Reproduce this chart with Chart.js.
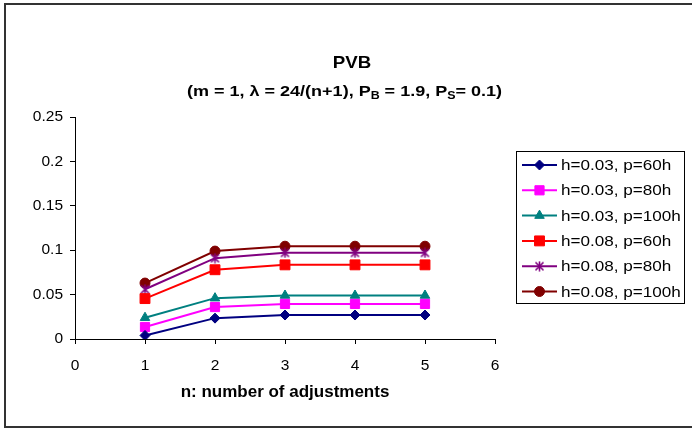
<!DOCTYPE html>
<html>
<head>
<meta charset="utf-8">
<script src="https://cdn.jsdelivr.net/npm/chart.js@4/dist/chart.umd.min.js"></script>
<style>
  html, body { margin: 0; padding: 0; background: #fff; }
  #wrap { width: 692px; height: 429px; position: relative; }
</style>
</head>
<body>
<div id="wrap"><canvas id="c" width="692" height="429"></canvas></div>
<script>
const categories = [1, 2, 3, 4, 5];
const seriesNames = ["h=0.03, p=60h", "h=0.03, p=80h", "h=0.03, p=100h", "h=0.08, p=60h", "h=0.08, p=80h", "h=0.08, p=100h"];
const s_h003_p60 = [0.004, 0.0235, 0.027, 0.027, 0.027];
const s_h003_p80 = [0.0135, 0.036, 0.0395, 0.0395, 0.0395];
const s_h003_p100 = [0.024, 0.046, 0.049, 0.049, 0.049];
const s_h008_p60 = [0.0455, 0.078, 0.0835, 0.0835, 0.0835];
const s_h008_p80 = [0.056, 0.091, 0.097, 0.097, 0.097];
const s_h008_p100 = [0.063, 0.099, 0.1045, 0.1045, 0.1045];
const xTicks = [0, 1, 2, 3, 4, 5, 6];
const yTicks = [0, 0.05, 0.1, 0.15, 0.2, 0.25];
const titleText = "PVB";
const xTitle = "n: number of adjustments";

const seriesValues = [s_h003_p60, s_h003_p80, s_h003_p100, s_h008_p60, s_h008_p80, s_h008_p100];
const colors = ["#000080", "#FF00FF", "#008080", "#FF0000", "#800080", "#800000"];

// Excel-like asterisk star (X with vertical bar)
function makeStar(color) {
  const c = document.createElement("canvas");
  c.width = 11; c.height = 11;
  const g = c.getContext("2d");
  g.strokeStyle = color; g.lineWidth = 1.6;
  g.beginPath();
  g.moveTo(1.5, 1.5); g.lineTo(9.5, 9.5);
  g.moveTo(9.5, 1.5); g.lineTo(1.5, 9.5);
  g.moveTo(5.5, 0.5); g.lineTo(5.5, 10.5);
  g.stroke();
  return c;
}
const starImg = makeStar(colors[4]);
const styles = ["rectRot", "rect", "triangle", "rect", starImg, "circle"];
const radii = [5, 6.5, 5.5, 7, 5, 5];

const FONT = "'Liberation Sans', Arial, sans-serif";

const datasets = seriesValues.map((vals, i) => ({
  label: seriesNames[i],
  data: categories.map((c, j) => ({ x: c, y: vals[j] })),
  borderColor: colors[i],
  backgroundColor: colors[i],
  pointBackgroundColor: colors[i],
  pointBorderColor: colors[i],
  pointStyle: styles[i],
  pointRadius: radii[i],
  pointBorderWidth: 1,
  borderWidth: 2,
  tension: 0,
  fill: false
}));

function drawMarker(ctx, style, r, x, y, color, bw) {
  ctx.save();
  if (style instanceof HTMLCanvasElement) {
    ctx.drawImage(style, x - style.width / 2, y - style.height / 2);
  } else if (Chart.helpers && Chart.helpers.drawPoint) {
    ctx.fillStyle = color; ctx.strokeStyle = color; ctx.lineWidth = bw;
    Chart.helpers.drawPoint(ctx, { pointStyle: style, radius: r, rotation: 0, borderWidth: bw }, x, y);
  }
  ctx.restore();
}

function stretchedText(ctx, text, x, y, sx) {
  ctx.save();
  ctx.translate(x, y);
  ctx.scale(sx, 1);
  ctx.fillText(text, 0, 0);
  ctx.restore();
}

const decor = {
  id: "decor",
  afterDraw(chart) {
    const ctx = chart.ctx;
    ctx.save();
    // outer border
    ctx.strokeStyle = "#333";
    ctx.lineWidth = 2;
    ctx.strokeRect(5, 4, 700, 423);

    // title
    ctx.fillStyle = "#000";
    ctx.textAlign = "left";
    ctx.textBaseline = "middle";
    ctx.font = "bold 17px " + FONT;
    const tw = ctx.measureText(titleText).width * 1.1;
    stretchedText(ctx, titleText, 352 - tw / 2, 63, 1.1);

    // subtitle with subscripts, stretched to the reference width
    const parts = [
      ["(m = 1, \u03bb = 24/(n+1), P", false],
      ["B", true],
      [" = 1.9, P", false],
      ["S", true],
      ["= 0.1)", false]
    ];
    const main = "bold 14.5px " + FONT, sub = "bold 10px " + FONT;
    let total = 0;
    parts.forEach(p => { ctx.font = p[1] ? sub : main; total += ctx.measureText(p[0]).width; });
    const k = 315 / total;
    let sx = 344.5 - 315 / 2;
    parts.forEach(p => {
      ctx.font = p[1] ? sub : main;
      stretchedText(ctx, p[0], sx, p[1] ? 96 : 92, k);
      sx += ctx.measureText(p[0]).width * k;
    });

    // legend
    ctx.lineWidth = 1;
    ctx.strokeStyle = "#000";
    ctx.strokeRect(516.5, 151.5, 168, 152);
    ctx.font = "15px " + FONT;
    ctx.textBaseline = "middle";
    chart.data.datasets.forEach((ds, i) => {
      const y = 165 + i * 25.3;
      ctx.strokeStyle = ds.borderColor;
      ctx.lineWidth = 2;
      ctx.beginPath(); ctx.moveTo(522, y); ctx.lineTo(557, y); ctx.stroke();
      drawMarker(ctx, ds.pointStyle, ds.pointRadius, 539.5, y, ds.borderColor, ds.pointBorderWidth);
      ctx.fillStyle = "#000";
      ctx.textAlign = "left";
      stretchedText(ctx, ds.label, 561, y + 1, 1.14);
    });
    ctx.restore();
  }
};

new Chart(document.getElementById("c"), {
  type: "line",
  data: { datasets },
  plugins: [decor],
  options: {
    responsive: false,
    animation: false,
    devicePixelRatio: 1,
    layout: { padding: { top: 117, right: 197, left: 0, bottom: 0 } },
    plugins: { legend: { display: false }, title: { display: false }, tooltip: { enabled: false } },
    scales: {
      x: {
        type: "linear",
        min: xTicks[0], max: xTicks[xTicks.length - 1],
        afterBuildTicks: s => { s.ticks = xTicks.map(v => ({ value: v })); },
        afterFit: s => { s.height = 90; },
        ticks: { color: "#000", font: { family: FONT, size: 15.5 }, padding: 12, maxRotation: 0 },
        grid: { drawOnChartArea: false, drawTicks: true, tickLength: 5, color: "#000", lineWidth: 1 },
        border: { display: true, color: "#000", width: 1 },
        title: { display: true, text: xTitle, color: "#000", font: { family: FONT, size: 17, weight: "bold" }, padding: { top: 0, bottom: 26 } }
      },
      y: {
        min: yTicks[0], max: yTicks[yTicks.length - 1],
        afterBuildTicks: s => { s.ticks = yTicks.map(v => ({ value: v })); },
        afterFit: s => { s.width = 75; },
        ticks: { color: "#000", font: { family: FONT, size: 15.5 }, padding: 7, callback: v => String(+v.toFixed(2)) },
        grid: { drawOnChartArea: false, drawTicks: true, tickLength: 5, color: "#000", lineWidth: 1 },
        border: { display: true, color: "#000", width: 1 }
      }
    }
  }
});
</script>
</body>
</html>
